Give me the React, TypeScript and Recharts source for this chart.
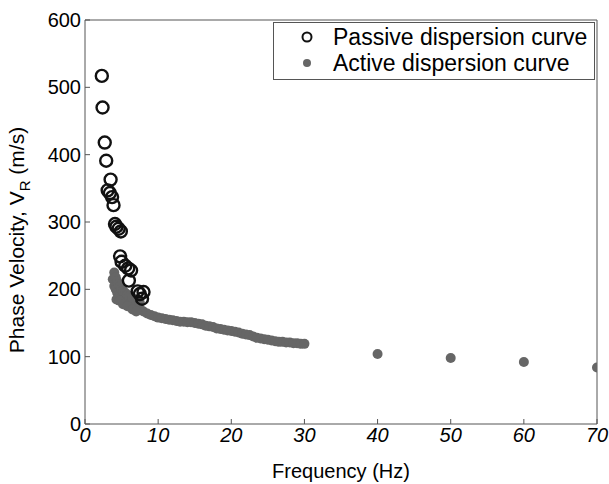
import React from 'react';
import { ScatterChart, Scatter, XAxis, YAxis, ReferenceArea } from 'recharts';

const xTicks = [0, 10, 20, 30, 40, 50, 60, 70];
const yTicks = [0, 100, 200, 300, 400, 500, 600];

// passive (open circles)
const passiveFreq = [2.3, 2.4, 2.7, 2.9, 3.5, 3.1, 3.4, 3.7, 3.9, 4.1, 4.3, 4.6, 4.9, 4.8, 5.0, 5.5, 5.9, 6.3, 6.0, 7.2, 7.5, 7.8, 8.0];
const passiveVel = [517, 470, 418, 391, 363, 347, 343, 337, 325, 297, 293, 290, 286, 249, 241, 235, 231, 228, 213, 197, 193, 186, 196];

// active (filled dots)
const activeFreq = [
  3.8, 4.0, 4.2, 4.4, 4.6, 4.8, 5.0, 5.3, 5.6, 6.0, 6.4, 6.8, 7.2, 7.6, 8.0, 8.5, 9.0, 9.5,
  10, 10.5, 11, 11.5, 12, 12.5, 13, 13.5, 14, 14.5, 15, 15.5, 16, 16.5, 17, 17.5, 18, 18.5,
  19, 19.5, 20, 20.5, 21, 21.5, 22, 22.5, 23, 23.5, 24, 24.5, 25, 25.5, 26, 26.5, 27, 27.5,
  28, 28.5, 29, 29.5, 30,
  4.0, 4.2, 4.4, 4.6, 4.8, 5.0, 5.2, 5.5, 5.8, 6.1, 6.5, 7.0, 7.5,
  4.3, 4.7, 5.2, 5.8, 6.5, 7.0,
  40, 50, 60, 70,
];
const activeVel = [
  215, 205, 200, 195, 192, 190, 188, 185, 182, 180, 178, 175, 172, 170, 167, 164, 162, 160,
  158, 157, 156, 155, 154, 153, 152, 152, 151, 151, 150, 149, 148, 146, 145, 144, 142, 141,
  140, 139, 138, 137, 136, 134, 133, 132, 130, 128, 127, 126, 125, 124, 123, 122, 122, 121,
  121, 120, 120, 119, 119,
  225, 218, 212, 208, 205, 200, 198, 195, 192, 190, 187, 183, 180,
  185, 183, 178, 175, 170, 167,
  104, 98, 92, 84,
];

const passiveData = passiveFreq.map((f, i) => ({ f, v: passiveVel[i] }));
const activeData = activeFreq.map((f, i) => ({ f, v: activeVel[i] }));

const FONT = '"Liberation Sans", Arial, sans-serif';
const FRAME = '#555';
const ACTIVE = '#666';

const OpenCircle = (props: any) => (
  <circle cx={props.cx} cy={props.cy} r={6} fill="none" stroke="#111" strokeWidth={2.4} />
);
const Dot = (props: any) => <circle cx={props.cx} cy={props.cy} r={5} fill={ACTIVE} />;

const BottomTick = ({ x, y, payload }: any) => (
  <text x={x} y={y + 14} textAnchor="middle" fontFamily={FONT} fontSize={20} fontStyle="italic" fill="#000">
    {payload.value}
  </text>
);
const LeftTick = ({ x, y, payload }: any) => (
  <text x={x} y={y + 7} textAnchor="end" fontFamily={FONT} fontSize={20} fill="#000">
    {payload.value}
  </text>
);

const YLabel = () => (
  <text transform="translate(24,240) rotate(-90)" textAnchor="middle" fontFamily={FONT} fontSize={21} fill="#000">
    Phase Velocity, V
    <tspan fontSize={15} dy={6}>R</tspan>
    <tspan dy={-6}> (m/s)</tspan>
  </text>
);

const LegendBox = () => (
  <div
    style={{
      position: 'absolute',
      left: 273,
      top: 22,
      width: 322,
      boxSizing: 'border-box',
      border: `1px solid ${FRAME}`,
      background: '#fff',
      padding: '1px 0 3px 26px',
      fontFamily: FONT,
      fontSize: 23,
      lineHeight: '26px',
      color: '#000',
      whiteSpace: 'nowrap',
    }}
  >
    <div style={{ display: 'flex', alignItems: 'center' }}>
      <svg width={14} height={14} style={{ marginRight: 19 }}>
        <circle cx={7} cy={7} r={4.5} fill="none" stroke="#111" strokeWidth={2} />
      </svg>
      Passive dispersion curve
    </div>
    <div style={{ display: 'flex', alignItems: 'center' }}>
      <svg width={14} height={14} style={{ marginRight: 19 }}>
        <circle cx={7} cy={7} r={4} fill={ACTIVE} />
      </svg>
      Active dispersion curve
    </div>
  </div>
);

export default function App() {
  return (
    <div style={{ position: 'absolute', left: 0, top: 0, width: 609, height: 484, background: '#fff' }}>
      <ScatterChart width={609} height={484} margin={{ top: 20, right: 12, bottom: 0, left: 0 }}>
        <XAxis
          type="number"
          dataKey="f"
          domain={[0, 70]}
          ticks={xTicks}
          allowDataOverflow
          axisLine={false}
          tickLine={{ stroke: FRAME }}
          tickSize={-5}
          tickMargin={9}
          tick={<BottomTick />}
          height={60}
          label={{ value: 'Frequency (Hz)', position: 'insideBottom', offset: 6, fontFamily: FONT, fontSize: 20, fill: '#000' }}
        />
        <XAxis
          xAxisId="top"
          orientation="top"
          type="number"
          domain={[0, 70]}
          ticks={xTicks}
          allowDataOverflow
          axisLine={false}
          tickLine={{ stroke: FRAME }}
          tickSize={-5}
          tick={false}
          height={0}
        />
        <YAxis
          type="number"
          dataKey="v"
          domain={[0, 600]}
          ticks={yTicks}
          allowDataOverflow
          axisLine={false}
          tickLine={{ stroke: FRAME }}
          tickSize={-5}
          tickMargin={9}
          tick={<LeftTick />}
          width={85}
          label={<YLabel />}
        />
        <ReferenceArea x1={0} x2={70} y1={0} y2={600} fill="none" stroke={FRAME} strokeWidth={1} fillOpacity={0} />
        <Scatter name="Active dispersion curve" data={activeData} shape={<Dot />} isAnimationActive={false} />
        <Scatter name="Passive dispersion curve" data={passiveData} shape={<OpenCircle />} isAnimationActive={false} />
      </ScatterChart>
      <LegendBox />
    </div>
  );
}
